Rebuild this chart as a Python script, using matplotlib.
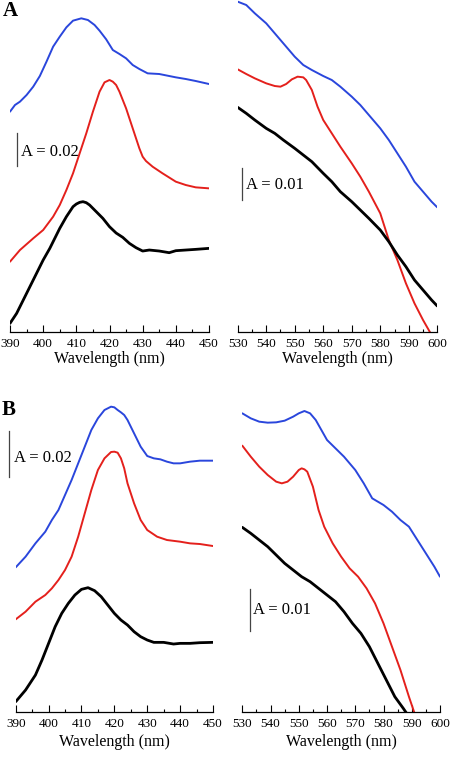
import matplotlib
matplotlib.use("Agg")
import matplotlib.pyplot as plt
import numpy as np
from matplotlib.ticker import MultipleLocator

plt.rcParams['font.family'] = ['Liberation Serif', 'DejaVu Serif']

# ---------------- Data (relative absorbance, arbitrary offset units) ----------------
# Panel A, Soret region
a_soret_blue_nm = [390,391.5,393,395,397,399,401,403,405,407,409,411.5,413.5,415.5,417,419,421,423,425,427,429,431.5,435,438,440,443,446,450]
a_soret_blue    = [660,680,690,710,735,767,810,855,885,913,933,940,935,920,903,877,845,833,820,800,788,775,773,767,763,758,752,743]
a_soret_red_nm  = [390,393,397,400,403,405,407,409,411,413,415,417,418.5,420,421,422,423,424,425,426,427,428,429,430,431,433,436,440,443,446,450]
a_soret_red     = [210,245,280,305,345,380,425,475,535,595,660,720,748,755,750,740,720,695,670,640,610,580,550,525,512,495,475,450,440,433,430]
a_soret_blk_nm  = [390,392,395,398,400,402,405,407,409,410,411,412,413,414,416,418,420,422,424,426,428,430,432,435,438,440,443,446,450]
a_soret_blk     = [25,55,115,175,215,250,310,345,375,383,388,390,387,380,360,340,315,296,283,265,252,242,245,242,237,243,245,247,250]

# Panel A, visible region
a_vis_blue_nm = [530,533,536,540,543,546,550,553,556,560,563,566,570,573,576,580,583,586,589,592,595,598,600]
a_vis_blue    = [990,980,955,925,895,865,825,800,785,767,755,735,705,680,650,610,575,535,495,450,420,390,373]
a_vis_red_nm  = [530,533,536,540,543,545,547,549,551,553,554,556,558,560,563,566,570,573,576,580,583,586,589,592,595,598,600]
a_vis_red     = [787,773,760,745,737,735,743,757,765,763,755,725,675,635,595,555,505,465,420,355,275,215,145,85,35,-10,-35]
a_vis_blk_nm  = [530,533,536,540,543,546,550,553,556,560,563,566,570,573,576,580,583,586,589,592,595,598,600]
a_vis_blk     = [673,655,635,610,595,575,550,530,510,475,450,420,390,365,340,305,270,230,195,155,125,95,77]

# Panel B, Soret region
b_soret_blue_nm = [390,393,396,399,401,403,405,407,409,411,413,415,417,419,420,421,422,423,424,426,428,430,432,434,436,438,440,443,446,450]
b_soret_blue    = [433,465,505,540,575,605,650,695,745,795,845,880,905,915,913,905,898,890,875,835,795,767,760,757,750,745,745,750,753,753]
b_soret_red_nm  = [390,393,396,399,401,403,405,407,409,411,413,415,417,419,420,421,422,423,424,426,428,430,433,436,440,443,446,450]
b_soret_red     = [277,300,330,350,370,395,425,465,525,595,665,725,760,779,780,777,760,730,685,625,575,545,525,515,510,505,503,497]
b_soret_blk_nm  = [390,393,396,398,400,402,404,406,408,410,412,414,416,418,420,422,424,426,428,430,432,435,438,440,443,446,450]
b_soret_blk     = [30,65,110,155,205,255,295,325,350,367,372,363,345,320,295,275,260,240,225,215,208,208,203,205,205,207,208]

# Panel B, visible region
b_vis_blue_nm = [530,533,536,539,542,545,548,550,552,554,556,558,560,563,566,570,573,576,580,583,586,589,592,595,598,600]
b_vis_blue    = [895,880,870,867,868,873,885,895,902,895,875,845,815,790,765,725,685,640,620,600,575,555,515,475,435,405]
b_vis_red_nm  = [530,533,536,539,542,544,546,548,550,551,552,553,555,557,559,562,565,568,571,574,577,580,583,586,589,591,593]
b_vis_red     = [798,765,735,710,690,685,690,705,725,730,727,720,675,605,555,505,465,430,405,370,325,265,195,125,45,-5,-55]
b_vis_blk_nm  = [530,533,536,539,542,545,548,551,554,557,560,563,566,569,572,575,578,581,584,587,589,591]
b_vis_blk     = [553,535,515,495,470,445,425,405,390,370,350,330,300,265,235,195,145,95,45,10,-15,-40]

# Absorbance represented by one data unit in each panel (from scale bars)
unit_a_soret = 0.02 / 97
unit_a_vis = 0.01 / 95
unit_b_soret = 0.02 / 138
unit_b_vis = 0.01 / 125

soret_ticks = [390, 400, 410, 420, 430, 440, 450]
vis_ticks = [530, 540, 550, 560, 570, 580, 590, 600]

BLUE = '#2a46dc'
RED = '#e4201c'
BLACK = '#000000'

fig = plt.figure(figsize=(4.5, 7.58), dpi=100)
W, H = 450.0, 758.0

def make_ax(left, right, bottom, top):
    return fig.add_axes([left / W, 1 - bottom / H, (right - left) / W, (bottom - top) / H])

LW_C = 1.4
LW_K = 2.0
axes_spec = [
    (make_ax(10, 209, 331.7, 0), (390, 450), soret_ticks, unit_a_soret,
     [(a_soret_blue_nm, a_soret_blue, BLUE, LW_C), (a_soret_red_nm, a_soret_red, RED, LW_C),
      (a_soret_blk_nm, a_soret_blk, BLACK, LW_K)],
     (392.1, 498, 0.02, 393.4, 540, 'A = 0.02'), -0.081),
    (make_ax(237.7, 437.3, 331.7, 0), (530, 600), vis_ticks, unit_a_vis,
     [(a_vis_blue_nm, a_vis_blue, BLUE, LW_C), (a_vis_red_nm, a_vis_red, RED, LW_C),
      (a_vis_blk_nm, a_vis_blk, BLACK, LW_K)],
     (531.6, 395, 0.01, 533.0, 440, 'A = 0.01'), -0.081),
    (make_ax(15.7, 213, 711.7, 380), (390, 450), soret_ticks, unit_b_soret,
     [(b_soret_blue_nm, b_soret_blue, BLUE, LW_C), (b_soret_red_nm, b_soret_red, RED, LW_C),
      (b_soret_blk_nm, b_soret_blk, BLACK, LW_K)],
     (388.0, 705, 0.02, 389.4, 760, 'A = 0.02'), -0.09),
    (make_ax(242.3, 440, 711.7, 380), (530, 600), vis_ticks, unit_b_vis,
     [(b_vis_blue_nm, b_vis_blue, BLUE, LW_C), (b_vis_red_nm, b_vis_red, RED, LW_C),
      (b_vis_blk_nm, b_vis_blk, BLACK, LW_K)],
     (532.7, 243, 0.01, 533.9, 305, 'A = 0.01'), -0.09),
]

for ax, xlim, ticks, unit, curves, sb, ly in axes_spec:
    for nm, vals, col, lw in curves:
        ax.plot(nm, np.array(vals) * unit, color=col, lw=lw,
                solid_joinstyle='round', solid_capstyle='round')
    ax.set_xlim(*xlim)
    ax.set_ylim(0, 995 * unit)
    for s in ['top', 'right', 'left']:
        ax.spines[s].set_visible(False)
    ax.spines['bottom'].set_linewidth(0.9)
    ax.set_yticks([])
    ax.set_xticks(ticks)
    ax.xaxis.set_minor_locator(MultipleLocator(5))
    ax.tick_params(axis='x', which='major', direction='in', length=5, width=0.8, pad=4.5, labelsize=9.5)
    ax.tick_params(axis='x', which='minor', direction='in', length=2.5, width=0.8)
    ax.set_facecolor('none')
    ax.set_xlabel('Wavelength (nm)', fontsize=11.5)
    ax.xaxis.set_label_coords(0.5, ly)
    ax.xaxis.label.set_va('center')
    bx, by0, bA, tx, ty, txt = sb
    ax.plot([bx, bx], [by0 * unit, by0 * unit + bA], color='#444444', lw=0.9, clip_on=False)
    ax.text(tx, ty * unit, txt, fontsize=12, ha='left', va='center')

fig.text(10 / W, 1 - 11 / H, 'A', fontsize=15, fontweight='bold', ha='center', va='center')
fig.text(8.5 / W, 1 - 410.5 / H, 'B', fontsize=15, fontweight='bold', ha='center', va='center')

fig.savefig('out.png', dpi=100)
